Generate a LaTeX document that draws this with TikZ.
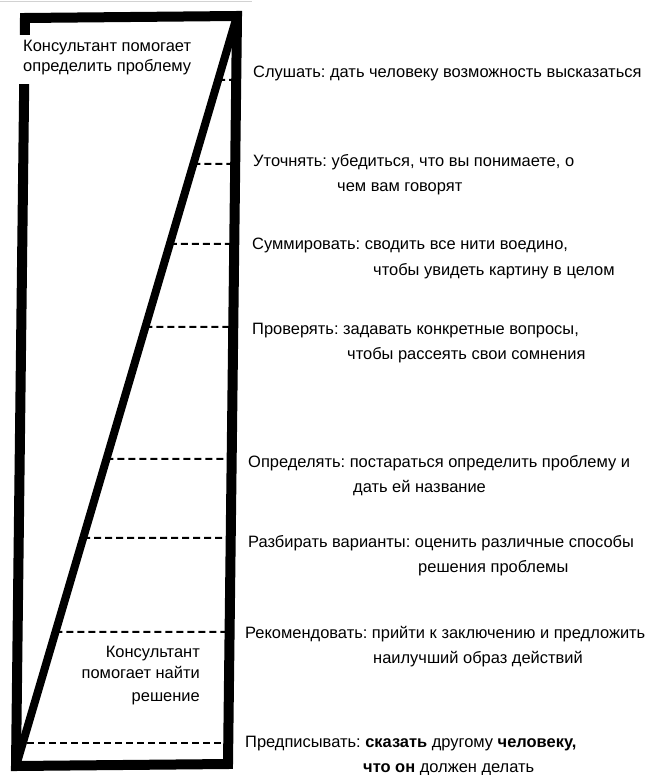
\documentclass[tikz,border=0pt]{standalone}
\usepackage{fontspec}
\setmainfont{Liberation Sans}
\frenchspacing
\begin{document}
\begin{tikzpicture}[x=1pt,y=-1pt,
  lbl/.style={anchor=base west, inner sep=0pt, font=\fontsize{16.45}{20}\selectfont},
  lblr/.style={anchor=base east, inner sep=0pt, font=\fontsize{16.45}{20}\selectfont},
  frame/.style={line width=10pt, line join=miter},
  diagline/.style={line width=8pt},
  dashline/.style={line width=2pt, dash pattern=on 7pt off 4pt}]
\useasboundingbox (0,0) rectangle (650,775);
\draw[gray!35, line width=1pt] (0,1.5) -- (252,1.5);
\coordinate (TL) at (25,18);
\coordinate (TR) at (237,16);
\coordinate (BR) at (228,764);
\coordinate (BL) at (16,766);
\draw[frame] (TL) -- (TR) -- (BR) -- (BL) -- cycle;
\draw[diagline] (TR) -- (BL);
\foreach \y in {80,164,244,327,459,538,632}{
  \coordinate (hL) at (0,\y);
  \coordinate (hR) at (650,\y);
  \draw[dashline] (intersection of TR--BL and hL--hR) -- (intersection of TR--BR and hL--hR);
}
\coordinate (hL) at (0,743);
\coordinate (hR) at (650,743);
\draw[dashline] (intersection of TL--BL and hL--hR) -- (intersection of TR--BR and hL--hR);
% white patch behind top-left text
\fill[white] (14,35) rectangle (205,84);
\node[lbl] (c1a) at (23,52) {Консультант помогает};
\node[lbl] (c1b) at (23,72) {определить проблему};
\node[lblr] (c2a) at (200,657) {Консультант};
\node[lblr] (c2b) at (200,678) {помогает найти};
\node[lblr] (c2c) at (200,701) {решение};
% right labels
\node[lbl] (s1) at (253,78) {Слушать: дать человеку возможность высказаться};
\node[lbl] (s2a) at (253,167) {Уточнять: убедиться, что вы понимаете, о};
\node[lbl] (s2b) at (337,192) {чем вам говорят};
\node[lbl] (s3a) at (252,250) {Суммировать: сводить все нити воедино,};
\node[lbl] (s3b) at (373,275) {чтобы увидеть картину в целом};
\node[lbl] (s4a) at (252,334) {Проверять: задавать конкретные вопросы,};
\node[lbl] (s4b) at (347,359) {чтобы рассеять свои сомнения};
\node[lbl] (s5a) at (248,467) {Определять: постараться определить проблему и};
\node[lbl] (s5b) at (353,492) {дать ей название};
\node[lbl] (s6a) at (248,547) {Разбирать варианты: оценить различные способы};
\node[lbl] (s6b) at (418,572) {решения проблемы};
\node[lbl] (s7a) at (245,638) {Рекомендовать: прийти к заключению и предложить};
\node[lbl] (s7b) at (373,663) {наилучший образ действий};
\node[lbl] (s8a) at (245,747) {Предписывать: \textbf{сказать} другому \textbf{человеку,}};
\node[lbl] (s8b) at (363,772) {\textbf{что он} должен делать};
\end{tikzpicture}
\end{document}
